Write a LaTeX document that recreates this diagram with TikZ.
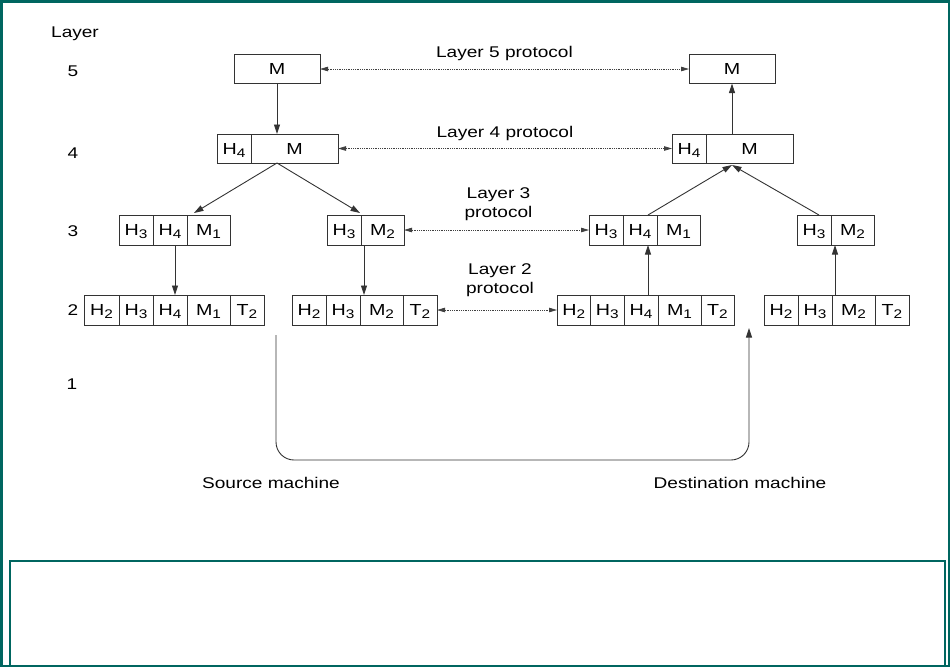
\documentclass[tikz,border=0pt]{standalone}
\usepackage{fontspec}
\setmainfont{Liberation Sans}[FakeStretch=1.23]
\usetikzlibrary{positioning,arrows.meta}
\definecolor{frameteal}{RGB}{0,102,96}
\newcommand\sub[1]{\raisebox{-3pt}{\fontsize{12.5}{13}\selectfont#1}}
\tikzset{
  cell/.style={draw=black!80, line width=1pt, minimum width=34pt, minimum height=30pt,
    inner sep=0pt, outer sep=0pt, text height=11.5pt, text depth=0pt,
    font=\fontsize{16}{19}\selectfont},
  mcell/.style={cell, minimum width=43pt},
  link/.style={-{Triangle[length=9.5pt,width=6pt]}, line width=0.9pt, black!80},
  proto/.style={{Triangle[length=8pt,width=4.5pt]}-{Triangle[length=8pt,width=4.5pt]},
    densely dotted, line width=0.8pt, black!75},
}

\begin{document}
\begin{tikzpicture}[x=1pt, y=-1pt, font=\fontsize{15.5}{19}\selectfont]
\useasboundingbox (0,0) rectangle (950,667);
\draw[frameteal, line width=2.5pt] (1.25,1.25) rectangle (948.75,665.75);
\draw[frameteal, line width=2.5pt] (10,561) rectangle (945,665.75);

% layer numbers
\node (lay) at (75,34) {Layer};
\node (n5) at (73,71) {5};
\node (n4) at (73,153) {4};
\node (n3) at (73,231) {3};
\node (n2) at (73,310) {2};
\node (n1) at (72,384) {1};

% layer 5
\node[cell, minimum width=86pt, minimum height=29pt] (s5) at (277,69) {M};
\node[cell, minimum width=86pt, minimum height=29pt] (d5) at (732,69) {M};

% layer 4
\node[cell, anchor=west, minimum height=29pt] (s4h) at (217,148.5) {H\sub{4}};
\node[cell, minimum width=87pt, minimum height=29pt, right=0pt of s4h] (s4m) {M};
\node[cell, anchor=west, minimum height=29pt] (d4h) at (672,148.5) {H\sub{4}};
\node[cell, minimum width=87pt, minimum height=29pt, right=0pt of d4h] (d4m) {M};

% layer 3
\node[cell, anchor=west] (sa3h3) at (119,230) {H\sub{3}};
\node[cell, right=0pt of sa3h3] (sa3h4) {H\sub{4}};
\node[mcell, right=0pt of sa3h4] (sa3m1) {M\sub{1}};
\node[cell, anchor=west] (sb3h3) at (327,230) {H\sub{3}};
\node[mcell, right=0pt of sb3h3] (sb3m2) {M\sub{2}};
\node[cell, anchor=west] (da3h3) at (589,230) {H\sub{3}};
\node[cell, right=0pt of da3h3] (da3h4) {H\sub{4}};
\node[mcell, right=0pt of da3h4] (da3m1) {M\sub{1}};
\node[cell, anchor=west] (db3h3) at (797,230) {H\sub{3}};
\node[mcell, right=0pt of db3h3] (db3m2) {M\sub{2}};

% layer 2
\node[cell, anchor=west, minimum width=35pt] (sa2h2) at (84,310) {H\sub{2}};
\node[cell, right=0pt of sa2h2] (sa2h3) {H\sub{3}};
\node[cell, right=0pt of sa2h3] (sa2h4) {H\sub{4}};
\node[mcell, right=0pt of sa2h4] (sa2m1) {M\sub{1}};
\node[cell, right=0pt of sa2m1] (sa2t2) {T\sub{2}};
\node[cell, anchor=west] (sb2h2) at (292,310) {H\sub{2}};
\node[cell, right=0pt of sb2h2] (sb2h3) {H\sub{3}};
\node[mcell, right=0pt of sb2h3] (sb2m2) {M\sub{2}};
\node[cell, right=0pt of sb2m2] (sb2t2) {T\sub{2}};
\node[cell, anchor=west, minimum width=33.5pt] (da2h2) at (557,310) {H\sub{2}};
\node[cell, minimum width=33.5pt, right=0pt of da2h2] (da2h3) {H\sub{3}};
\node[cell, right=0pt of da2h3] (da2h4) {H\sub{4}};
\node[mcell, right=0pt of da2h4] (da2m1) {M\sub{1}};
\node[cell, minimum width=33pt, right=0pt of da2m1] (da2t2) {T\sub{2}};
\node[cell, anchor=west] (db2h2) at (764,310) {H\sub{2}};
\node[cell, right=0pt of db2h2] (db2h3) {H\sub{3}};
\node[mcell, right=0pt of db2h3] (db2m2) {M\sub{2}};
\node[cell, right=0pt of db2m2] (db2t2) {T\sub{2}};

% peer protocols
\draw[proto] (s5) -- (d5) node[midway, yshift=16pt, text=black] (p5) {Layer 5 protocol};
\draw[proto] (s4m) -- (d4h) node[midway, yshift=15pt, text=black] (p4) {Layer 4 protocol};
\draw[proto] (sb3m2) -- (da3h3) node[midway, xshift=2pt, yshift=25.5pt, text=black, align=center] (p3) {Layer 3\\protocol};
\draw[proto] (sb2t2) -- (da2h2) node[midway, xshift=3pt, yshift=29.5pt, text=black, align=center] (p2) {Layer 2\\protocol};

% source side
\draw[link] (s5.south) -- (s5.south |- s4m.north);
\coordinate (sapex) at (s5.south |- s4m.south);
\draw[link] (sapex) -- ([xshift=7pt,yshift=2pt]sa3m1.north west);
\draw[link] (sapex) -- ([xshift=-1pt,yshift=2pt]sb3h3.north east);
\draw[link] ([xshift=5pt]sa3h4.south) -- ([xshift=5pt]sa3h4.south |- sa2h4.north);
\draw[link] ([xshift=3pt]sb3m2.south west) -- ([xshift=3pt]sb3m2.south west |- sb2m2.north);

% destination side
\draw[link] ([xshift=8pt]da3h4.south |- da2h4.north) -- ([xshift=8pt]da3h4.south);
\draw[link] ([xshift=4pt]db3m2.south west |- db2m2.north) -- ([xshift=4pt]db3m2.south west);
\coordinate (dapex) at ([yshift=-2pt]d5.south |- d4m.south);
\draw[link] ([xshift=8pt]da3h4.north) -- (dapex);
\draw[link] ([xshift=-12pt]db3h3.north east) -- (dapex);
\draw[link] (d4m.north -| d5.south) -- (d5.south);

% physical medium
\coordinate (src) at (276,335);
\coordinate (dst) at (749,328);
\draw[link, rounded corners=18pt] (src) -- (src |- 0,460) -- (dst |- 0,460) -- (dst);
\node (srcm) at (271,483) {Source machine};
\node (dstm) at (740,483) {Destination machine};
\end{tikzpicture}
\end{document}
